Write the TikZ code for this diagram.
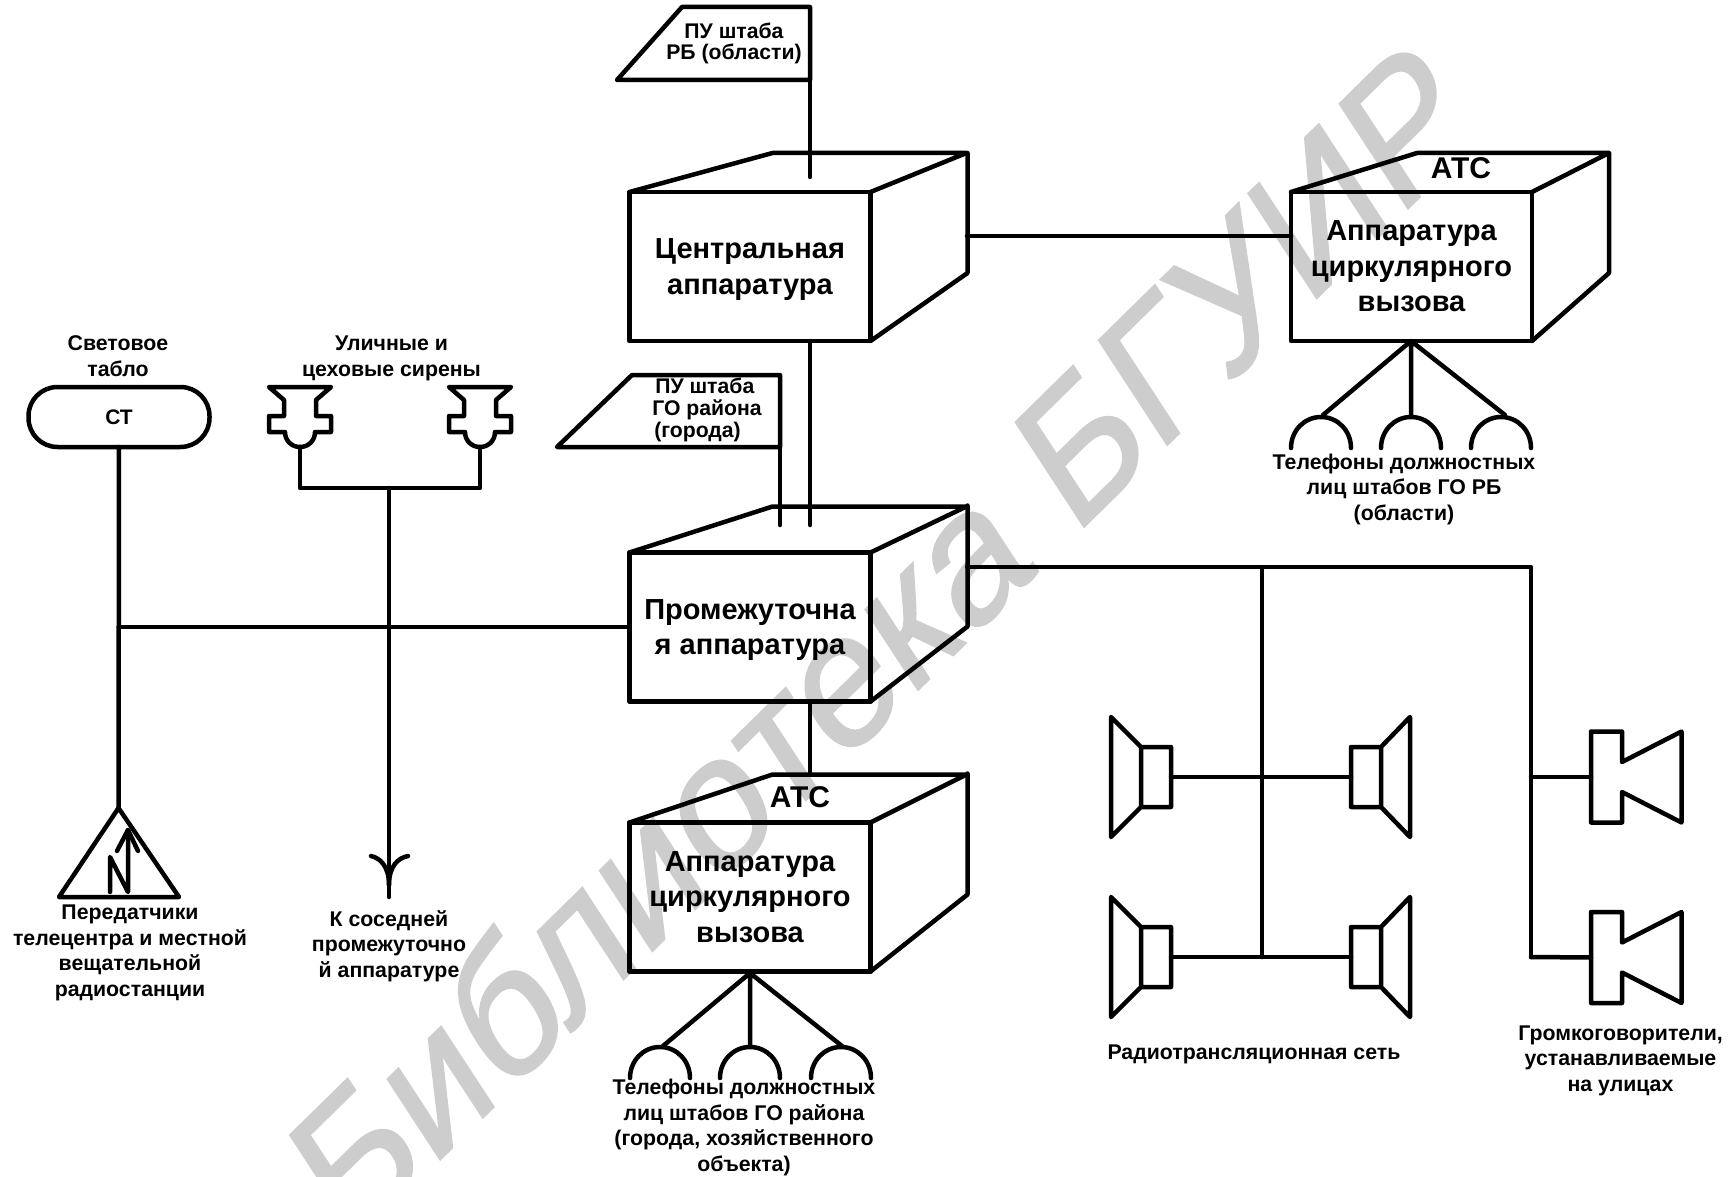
\documentclass[tikz,border=0pt]{standalone}
\usepackage{fontspec}
\setmainfont{Liberation Sans}
\newfontfamily\wmfont{Liberation Sans}[FakeBold=1.2,FakeSlant=0.2]
\definecolor{wmgray}{HTML}{CDCDCD}
\tikzset{
  wire/.style={line width=4.5pt,line cap=round,line join=round,black},
  frontbox/.style={draw=black,line width=4.5pt,line join=round,outer sep=0pt,inner sep=0pt,minimum width=241pt,minimum height=149pt,align=center,font=\bfseries\fontsize{29}{35.5}\selectfont},
  smalllabel/.style={inner sep=0pt,align=center,anchor=base,font=\bfseries\fontsize{21.3}{25.5}\selectfont},
  flaglabel/.style={inner sep=0pt,anchor=base,font=\bfseries\fontsize{21.2}{21.7}\selectfont},
  atclabel/.style={inner sep=0pt,anchor=base,font=\bfseries\fontsize{30}{35}\selectfont},
  dome/.pic={\draw[wire] (0,0) .. controls (0,-17) and (13,-31) .. (30,-31) .. controls (47,-31) and (60,-17) .. (60,0);},
  spkleft/.pic={\draw[wire] (-60,-60) -- (-30,-30) -- (0,-30) -- (0,30) -- (-30,30) -- (-60,60) -- cycle (-30,-30) -- (-30,30);},
  spkright/.pic={\draw[wire] (59,-60) -- (30,-30) -- (0,-30) -- (0,30) -- (30,30) -- (59,60) -- cycle (30,-30) -- (30,30);},
  streethorn/.pic={\draw[wire] (0,-45.5) -- (31,-45.5) -- (31,-15) -- (90.5,-45.5) -- (90.5,45.5) -- (31,15) -- (31,45.5) -- (0,45.5) -- cycle;},
  sirenshape/.pic={\draw[wire] (-31,-60) -- (-16,-47) -- (-16,-31) -- (-31,-31) -- (-31,-15) -- (-15,-15) .. controls (-15,-6) and (-8,0) .. (0,0) .. controls (8,0) and (15,-6) .. (15,-15) -- (31,-15) -- (31,-31) -- (16,-31) -- (16,-47) -- (31,-60) -- cycle;}
}
\begin{document}
\begin{tikzpicture}[x=1pt,y=-1pt]
\useasboundingbox (0,0) rectangle (1733,1177);
% watermark
\node[rotate=44.5,anchor=base west,text=wmgray,inner sep=0pt,font=\wmfont\fontsize{178}{178}\selectfont] (wm) at (348,1250) {Библиотека БГУИР};

% main boxes (front faces)
\node[frontbox] (central) at (750,266.5) {\rule{0pt}{26pt}Центральная\\аппаратура};
\node[frontbox] (atcR) at (1411.5,266.5) {Аппаратура\\циркулярного\\вызова};
\node[frontbox] (inter) at (750,627) {\rule{0pt}{26pt}Промежуточна\\я аппаратура};
\node[frontbox] (atcL) at (750,897) {Аппаратура\\циркулярного\\вызова};

% box tops and sides
\foreach \b/\h/\d/\u in {central/39/68/120,inter/46/75/121,atcL/48/77/121}{
  \draw[wire] (\b.north west) -- ++(143,-\h) -- ++(194,0) -- (\b.north east);
  \draw[wire] (\b.south east) -- ++(97,-\d) -- ++(0,-\u) ;
}
\draw[wire] (atcR.north west) -- ++(126,-39) -- ++(192,0) -- (atcR.north east);
\draw[wire] (atcR.south east) -- ++(77,-68) -- ++(0,-120);

\node[atclabel] (atcRt) at (1461,179) {АТС};
\node[atclabel] (atcLt) at (800,807) {АТС};

% flags
\coordinate (f1a) at (617,80); \coordinate (f1b) at (682,7); \coordinate (f1c) at (810,7); \coordinate (f1d) at (810,80);
\draw[wire] (f1a) -- (f1b) -- (f1c) -- (f1d) -- cycle;
\node[flaglabel,align=center] (f1t) at (734,60) {ПУ штаба\\РБ (области)};
\coordinate (f2a) at (557,447); \coordinate (f2b) at (632,375); \coordinate (f2c) at (780,375); \coordinate (f2d) at (780,447);
\draw[wire] (f2a) -- (f2b) -- (f2c) -- (f2d) -- cycle;
\node[flaglabel,align=left] (f2t) at (707,437) {\hspace{3pt}ПУ штаба\\ГО района\\\hspace{2pt}(города)};

% vertical connectors
\coordinate (c1in) at (810,177);
\coordinate (i1in) at (810,525);
\coordinate (i2in) at (780,525);
\coordinate (c1out) at (810,341);
\coordinate (i1out) at (810,702);
\coordinate (a1in) at (810,774);
\draw[wire] (f1d) -- (c1in);
\draw[wire] (c1out) -- (i1in);
\draw[wire] (f2d) -- (i2in);
\draw[wire] (i1out) -- (a1in);

% central -> ATC
\coordinate (c1r) at (967,236);
\coordinate (a2l) at (1291,236);
\draw[wire] (c1r) -- (a2l);

% phones right
\coordinate (apexR) at (1411,341);
\coordinate (pr1) at (1323,415); \coordinate (pr2) at (1411,415); \coordinate (pr3) at (1505,415);
\draw[wire] (apexR) -- (pr1) (apexR) -- (pr2) (apexR) -- (pr3);
\pic at (1291,448) {dome};
\pic at (1381,448) {dome};
\pic at (1471,448) {dome};
\node[smalllabel] (telR) at (1404,520) {Телефоны должностных\\лиц штабов ГО РБ\\(области)};

% phones lower
\coordinate (apexL) at (750,973);
\coordinate (pl1) at (663,1046); \coordinate (pl2) at (750,1046); \coordinate (pl3) at (842,1046);
\draw[wire] (apexL) -- (pl1) (apexL) -- (pl2) (apexL) -- (pl3);
\pic at (630,1078) {dome};
\pic at (720,1078) {dome};
\pic at (811,1078) {dome};
\node[smalllabel] (telL) at (744,1171) {Телефоны должностных\\лиц штабов ГО района\\(города, хозяйственного\\объекта)};

% light board
\node[draw=black,line width=4.5pt,rounded corners=29pt,outer sep=0pt,inner sep=0pt,minimum width=181pt,minimum height=60pt,font=\bfseries\fontsize{21}{24}\selectfont] (st) at (119,417) {СТ};
\node[smalllabel] (stt) at (118,376) {Световое\\табло};

% sirens
\coordinate (s1) at (300,447);
\coordinate (s2) at (480,447);
\pic at (s1) {sirenshape};
\pic at (s2) {sirenshape};
\node[smalllabel] (sirt) at (391.5,376) {Уличные и\\цеховые сирены};
\coordinate (s1b) at (300,488);
\coordinate (s2b) at (480,488);
\coordinate (sirj) at (389,488);
\coordinate (sirarrow) at (389,897);
\draw[wire] (s1) -- (s1b) -- (s2b) -- (s2);
\draw[wire] (sirj) -- (sirarrow);
\draw[wire] (371,856) .. controls (380,858) and (389,866) .. (389,885);
\draw[wire] (408,856) .. controls (398,858) and (389,866) .. (389,885);
\node[smalllabel] (nbr) at (389,977) {К соседней\\промежуточно\\й аппаратуре};

% transmitter
\coordinate (tapex) at (118.5,808);
\coordinate (tl) at (59,897);
\coordinate (tr) at (179,897);
\draw[wire] (tapex) -- (tl) -- (tr) -- cycle;
\draw[wire] (st.south) -- (tapex);
\draw[wire] (110,892) -- (110,857) -- (128,892) -- (128,830);
\draw[wire] (117,851) -- (128,830) -- (138,851);
\node[smalllabel] (trt) at (130,996) {Передатчики\\телецентра и местной\\вещательной\\радиостанции};

% horizontal from intermediate to left
\coordinate (ileft) at (118.5,627);
\draw[wire] (ileft) -- (inter.west);

% right network
\coordinate (ir) at (967,567);
\coordinate (n1) at (1262,567);
\coordinate (n2) at (1531,567);
\coordinate (n1b) at (1262,957);
\coordinate (n2b) at (1531,957);
\coordinate (n1m) at (1262,777);
\coordinate (n2m) at (1531,777);
\draw[wire] (ir) -- (n2) -- (n2b);
\draw[wire] (n1) -- (n1b);
\coordinate (sl1) at (1171,777); \coordinate (sr1) at (1351,777);
\coordinate (sl2) at (1171,957); \coordinate (sr2) at (1351,957);
\coordinate (h1) at (1591,777); \coordinate (h2) at (1591,957.5);
\draw[wire] (sl1) -- (sr1);
\draw[wire] (sl2) -- (sr2);
\draw[wire] (n2m) -- (h1);
\draw[wire] (n2b) -- (h2);
\pic at (sl1) {spkleft};
\pic at (sr1) {spkright};
\pic at (sl2) {spkleft};
\pic at (sr2) {spkright};
\pic at (h1) {streethorn};
\pic at (h2) {streethorn};
\node[smalllabel] (rnet) at (1254,1059) {Радиотрансляционная сеть};
\node[smalllabel] (gromk) at (1620.5,1091) {Громкоговорители,\\устанавливаемые\\на улицах};
\end{tikzpicture}
\end{document}
